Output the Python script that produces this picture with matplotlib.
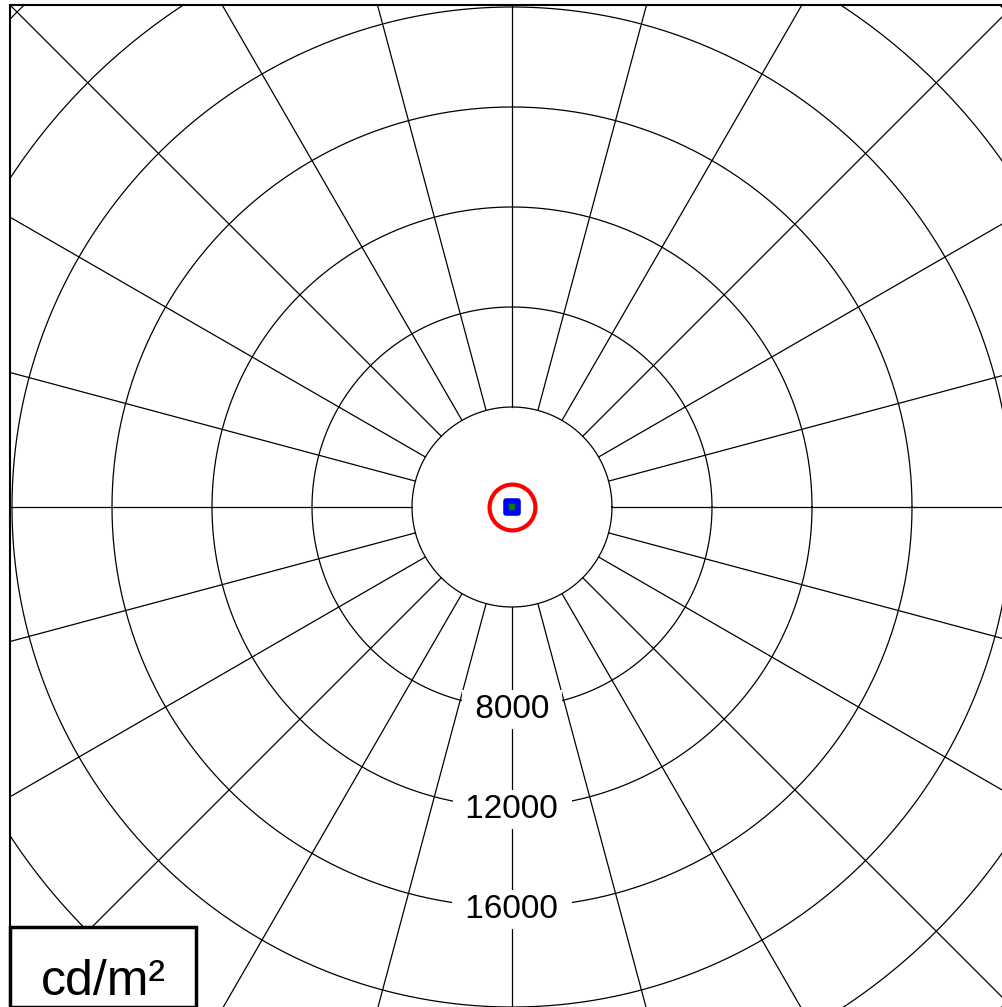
import numpy as np
import matplotlib
matplotlib.use("Agg")
import matplotlib.pyplot as plt
from matplotlib.patches import Rectangle
from matplotlib.markers import MarkerStyle

plt.rcParams['font.family'] = ['Liberation Sans', 'DejaVu Sans']

# polar grid (cd/m2)
ring_values = [4000, 8000, 12000, 16000, 20000, 24000, 28000]
spoke_angles = np.arange(0, 360, 15)
label_values = [8000, 12000, 16000]
unit_label = "cd/m\u00b2"
# measured points at the centre
red_x, red_y = [0.0], [0.0]
blue_x, blue_y = [0.0], [0.0]

W, H = 1002, 1007
fig = plt.figure(figsize=(W / 100, H / 100), dpi=100)
ax = fig.add_axes([10 / W, 0, 992 / W, 1002 / H])
ax.set_xlim(-20080, 19600)
ax.set_ylim(-20000, 20080)
ax.set_aspect('auto')
ax.set_xticks([])
ax.set_yticks([])
ax.spines['right'].set_visible(False)
ax.spines['bottom'].set_visible(False)
ax.spines['left'].set_linewidth(1.5)
ax.spines['top'].set_linewidth(1.5)

t = np.linspace(0, 2 * np.pi, 721)
for r in ring_values:
    ax.plot(r * np.cos(t), r * np.sin(t), color='black', lw=0.9, zorder=1)

r0, r1 = ring_values[0], 40000
for a in np.deg2rad(spoke_angles):
    ax.plot([r0 * np.cos(a), r1 * np.cos(a)], [r0 * np.sin(a), r1 * np.sin(a)],
            color='black', lw=0.9, zorder=1)

for v in label_values:
    ax.text(0, -v - 100, " %d " % v, ha='center', va='center', fontsize=24,
            zorder=3, bbox=dict(boxstyle='square,pad=0.12', fc='white', ec='none'))

ax.plot(red_x, red_y, 'o', ms=33, mfc='none', mec='red', mew=3, zorder=4)
ax.plot(blue_x, blue_y, marker=MarkerStyle('s', joinstyle='round'), ls='none',
        ms=8, mfc='green', mec='blue', mew=4, zorder=5)

# unit box
ax.add_patch(Rectangle((0, 0), 186 / 992, 80 / 1002, transform=ax.transAxes,
                       fc='white', ec='black', lw=2.5, zorder=6, clip_on=False))
ax.text(93 / 992, 12 / 1002, unit_label, transform=ax.transAxes, ha='center',
        va='baseline', fontsize=36, zorder=7)

fig.savefig("out.png", dpi=100)
